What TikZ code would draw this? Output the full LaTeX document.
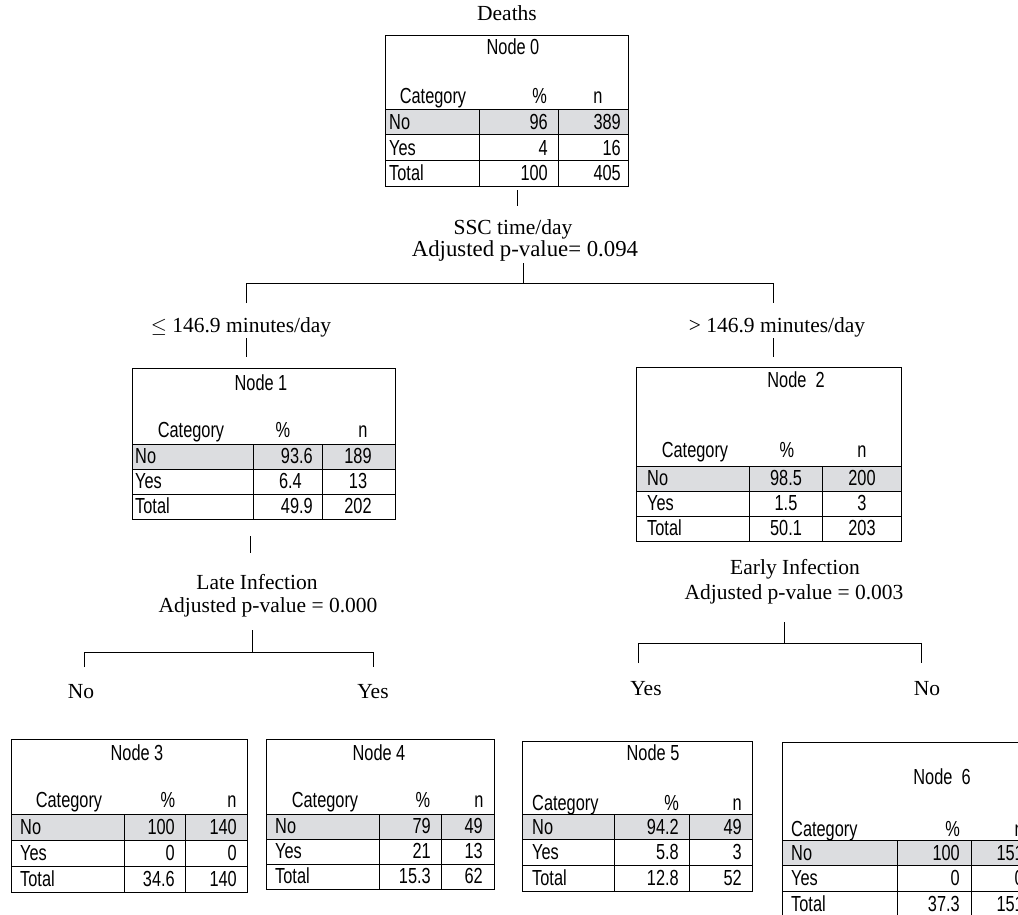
\documentclass[tikz,border=0pt]{standalone}
\usepackage{fontspec}
\setmainfont{Liberation Serif}
\newfontfamily\tabfam[FakeStretch=0.75]{Liberation Sans}
\definecolor{cellgray}{RGB}{220,221,224}
\newcommand{\tablegrid}[8]{% name,x1,y1,x2,graytop,rowh,c1,c2
  \fill[cellgray] (#2,#5) rectangle (#4,#5+#6);
  \node[tbox, minimum width={(#4-#2)*1pt}, minimum height={(#5+3*#6-#3)*1pt}] (#1) at (#2,#3) {};
  \draw[ln] (#2,#5) -- (#4,#5) (#2,#5+#6) -- (#4,#5+#6) (#2,#5+2*#6) -- (#4,#5+2*#6);
  \draw[ln] (#7,#5) -- (#7,#5+3*#6) (#8,#5) -- (#8,#5+3*#6);
}
\newcommand{\cell}[5]{\node[tx, anchor=#4] (#1) at (#2,#3) {#5};}
\begin{document}
\begin{tikzpicture}[x=1pt,y=-1pt,
  lab/.style={font=\fontsize{21.5}{24}\selectfont, inner sep=0pt, anchor=base},
  tx/.style={font=\tabfam\fontsize{21.8}{24}\selectfont, inner sep=0pt},
  ln/.style={line width=0.85pt},
  tbox/.style={draw, line width=0.85pt, inner sep=0pt, anchor=north west}]
\useasboundingbox (0,0) rectangle (1018,914);
\fill[white] (0,0) rectangle (1018,914);
\clip (0,0) rectangle (1018,914);

% ---------- Node 0 ----------
\node[lab] (deaths) at (507,20) {Deaths};
\tablegrid{n0}{385}{35}{628}{109}{25.7}{479}{558}
\cell{n0t}{513}{54}{base}{Node 0}
\cell{n0h1}{433}{103}{base}{Category}
\cell{n0h2}{547}{103}{base east}{\%}
\cell{n0h3}{598}{103}{base}{n}
\cell{n0a1}{389}{129}{base west}{No}
\cell{n0a2}{548}{129}{base east}{96}
\cell{n0a3}{621}{129}{base east}{389}
\cell{n0b1}{389}{155}{base west}{Yes}
\cell{n0b2}{548}{155}{base east}{4}
\cell{n0b3}{621}{155}{base east}{16}
\cell{n0c1}{389}{180}{base west}{Total}
\cell{n0c2}{548}{180}{base east}{100}
\cell{n0c3}{621}{180}{base east}{405}

% ---------- Node 1 ----------
\tablegrid{n1}{132}{368}{395}{444}{25}{253}{322}
\cell{n1t}{261}{390}{base}{Node 1}
\cell{n1h1}{191}{437}{base}{Category}
\cell{n1h2}{283}{437}{base}{\%}
\cell{n1h3}{363}{437}{base}{n}
\cell{n1a1}{135}{463.5}{base west}{No}
\cell{n1a2}{313}{463.5}{base east}{93.6}
\cell{n1a3}{358}{463.5}{base}{189}
\cell{n1b1}{135}{488.5}{base west}{Yes}
\cell{n1b2}{302}{488.5}{base east}{6.4}
\cell{n1b3}{358}{488.5}{base}{13}
\cell{n1c1}{135}{513.5}{base west}{Total}
\cell{n1c2}{313}{513.5}{base east}{49.9}
\cell{n1c3}{358}{513.5}{base}{202}

% ---------- Node 2 ----------
\tablegrid{n2}{636}{367}{901}{466}{25}{749}{822}
\cell{n2t}{796}{387}{base}{Node~~2}
\cell{n2h1}{695}{457}{base}{Category}
\cell{n2h2}{787}{457}{base}{\%}
\cell{n2h3}{862}{457}{base}{n}
\cell{n2a1}{647}{485.5}{base west}{No}
\cell{n2a2}{786}{485.5}{base}{98.5}
\cell{n2a3}{862}{485.5}{base}{200}
\cell{n2b1}{647}{510.5}{base west}{Yes}
\cell{n2b2}{786}{510.5}{base}{1.5}
\cell{n2b3}{862}{510.5}{base}{3}
\cell{n2c1}{647}{535.5}{base west}{Total}
\cell{n2c2}{786}{535.5}{base}{50.1}
\cell{n2c3}{862}{535.5}{base}{203}

% ---------- Node 3 ----------
\tablegrid{n3}{11}{739}{247}{814}{26}{124}{185}
\cell{n3t}{137}{760}{base}{Node 3}
\cell{n3h1}{69}{807}{base}{Category}
\cell{n3h2}{168}{807}{base}{\%}
\cell{n3h3}{232}{807}{base}{n}
\cell{n3a1}{20}{834}{base west}{No}
\cell{n3a2}{175}{834}{base east}{100}
\cell{n3a3}{237}{834}{base east}{140}
\cell{n3b1}{20}{860}{base west}{Yes}
\cell{n3b2}{175}{860}{base east}{0}
\cell{n3b3}{237}{860}{base east}{0}
\cell{n3c1}{20}{886}{base west}{Total}
\cell{n3c2}{175}{886}{base east}{34.6}
\cell{n3c3}{237}{886}{base east}{140}

% ---------- Node 4 ----------
\tablegrid{n4}{266}{739}{494}{814}{25}{379}{441}
\cell{n4t}{379}{760}{base}{Node 4}
\cell{n4h1}{325}{807}{base}{Category}
\cell{n4h2}{423}{807}{base}{\%}
\cell{n4h3}{479}{807}{base}{n}
\cell{n4a1}{275}{833.5}{base west}{No}
\cell{n4a2}{431}{833.5}{base east}{79}
\cell{n4a3}{483}{833.5}{base east}{49}
\cell{n4b1}{275}{858.5}{base west}{Yes}
\cell{n4b2}{431}{858.5}{base east}{21}
\cell{n4b3}{483}{858.5}{base east}{13}
\cell{n4c1}{275}{883.5}{base west}{Total}
\cell{n4c2}{431}{883.5}{base east}{15.3}
\cell{n4c3}{483}{883.5}{base east}{62}

% ---------- Node 5 ----------
\tablegrid{n5}{522}{741}{752}{814}{25.7}{614}{689}
\cell{n5t}{653}{760}{base}{Node 5}
\cell{n5h1}{532}{810}{base west}{Category}
\cell{n5h2}{679}{810}{base east}{\%}
\cell{n5h3}{742}{810}{base east}{n}
\cell{n5a1}{532}{834}{base west}{No}
\cell{n5a2}{679}{834}{base east}{94.2}
\cell{n5a3}{742}{834}{base east}{49}
\cell{n5b1}{532}{859.5}{base west}{Yes}
\cell{n5b2}{679}{859.5}{base east}{5.8}
\cell{n5b3}{742}{859.5}{base east}{3}
\cell{n5c1}{532}{885}{base west}{Total}
\cell{n5c2}{679}{885}{base east}{12.8}
\cell{n5c3}{742}{885}{base east}{52}

% ---------- Node 6 ----------
\tablegrid{n6}{782}{742}{1034}{840}{25.5}{897}{971}
\cell{n6t}{942}{784}{base}{Node~~6}
\cell{n6h1}{791}{836}{base west}{Category}
\cell{n6h2}{960}{836}{base east}{\%}
\cell{n6h3}{1024}{836}{base east}{n}
\cell{n6a1}{791}{860}{base west}{No}
\cell{n6a2}{960}{860}{base east}{100}
\cell{n6a3}{1024}{860}{base east}{151}
\cell{n6b1}{791}{885}{base west}{Yes}
\cell{n6b2}{960}{885}{base east}{0}
\cell{n6b3}{1024}{885}{base east}{0}
\cell{n6c1}{791}{911}{base west}{Total}
\cell{n6c2}{960}{911}{base east}{37.3}
\cell{n6c3}{1024}{911}{base east}{151}

% ---------- split labels ----------
\node[lab] (ssc) at (513,234) {SSC time/day};
\node[lab, font=\fontsize{22.8}{25}\selectfont] (sscp) at (525,256) {Adjusted p-value= 0.094};
\node[lab] (le) at (241,332) {$\leq$ 146.9 minutes/day};
\node[lab] (gt) at (777,332) {> 146.9 minutes/day};
\node[lab] (late) at (257,589) {Late Infection};
\node[lab] (latep) at (268,612) {Adjusted p-value = 0.000};
\node[lab] (no3) at (81,698) {No};
\node[lab] (yes4) at (373,698) {Yes};
\node[lab] (early) at (795,574) {Early Infection};
\node[lab] (earlyp) at (794,599) {Adjusted p-value = 0.003};
\node[lab] (yes5) at (646,695) {Yes};
\node[lab] (no6) at (927,695) {No};

% ---------- connectors ----------
\coordinate (s0a) at (517,190); \coordinate (s0b) at (517,206);
\coordinate (s1a) at (523,263); \coordinate (s1b) at (523,283);
\coordinate (hL) at (246,283); \coordinate (hR) at (773,283);
\coordinate (dL) at (246,303); \coordinate (dR) at (773,303);
\coordinate (eLa) at (246,338); \coordinate (eLb) at (246,357);
\coordinate (eRa) at (773,338); \coordinate (eRb) at (773,357);
\coordinate (s2a) at (250,536); \coordinate (s2b) at (250,553);
\coordinate (s3a) at (252,630); \coordinate (s3b) at (252,652);
\coordinate (h3L) at (84,652); \coordinate (h3R) at (373,652);
\coordinate (d3L) at (84,667); \coordinate (d3R) at (373,667);
\coordinate (s4a) at (784,622); \coordinate (s4b) at (784,643);
\coordinate (h4L) at (638,643); \coordinate (h4R) at (921,643);
\coordinate (d4L) at (638,663); \coordinate (d4R) at (921,663);

\draw[ln] (s0a) -- (s0b);
\draw[ln] (s1a) -- (s1b);
\draw[ln] (dL) -- (hL) -- (hR) -- (dR);
\draw[ln] (eLa) -- (eLb);
\draw[ln] (eRa) -- (eRb);
\draw[ln] (s2a) -- (s2b);
\draw[ln] (s3a) -- (s3b);
\draw[ln] (d3L) -- (h3L) -- (h3R) -- (d3R);
\draw[ln] (s4a) -- (s4b);
\draw[ln] (d4L) -- (h4L) -- (h4R) -- (d4R);
\end{tikzpicture}
\end{document}
